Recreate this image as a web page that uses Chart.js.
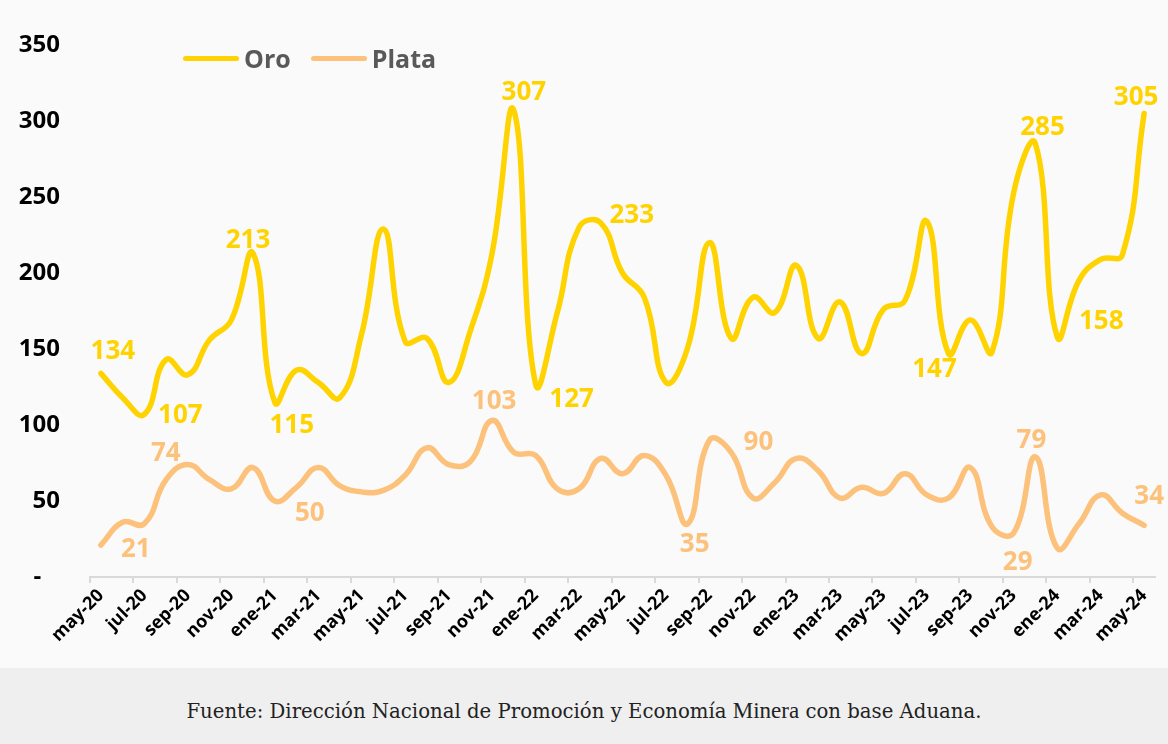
<!DOCTYPE html>
<html lang="es">
<head>
<meta charset="utf-8">
<title>Oro y Plata</title>
<script src="https://cdn.jsdelivr.net/npm/chart.js@4.4.1/dist/chart.umd.min.js"></script>
<style>
    body { margin: 0; background: #fafafa; }
    #contenedor { position: relative; width: 1168px; height: 668px; background: #fafafa; }
    #leyenda { position: absolute; left: 183px; top: 41px; display: flex; align-items: center; font: bold 25px "Open Sans", sans-serif; color: #595959; }
    #leyenda .item { display: flex; align-items: center; margin-right: 20px; }
    #leyenda .linea { width: 56px; height: 5px; border-radius: 3px; margin-right: 5px; }
    #fuente { width: 1168px; height: 76px; box-sizing: border-box; padding-top: 10px; background: #efefef; display: flex; align-items: center; justify-content: center; font: 19.7px "DejaVu Serif", serif; color: #222; }
    #fuente .m { font: 23px "Liberation Serif", serif; }
</style>
</head>
<body>
<div id="contenedor">
    <canvas id="grafico" width="1168" height="668"></canvas>
    <div id="leyenda"></div>
</div>
<div id="fuente">Fuente: Dirección Nacional de Promoción y Economía&nbsp;<span class="m">Minera</span>&nbsp;con base Aduana.</div>

<script>
//MESES (MAY-20 A MAY-24)
var meses = ["may-20", "jun-20", "jul-20", "ago-20", "sep-20", "oct-20", "nov-20", "dic-20",
    "ene-21", "feb-21", "mar-21", "abr-21", "may-21", "jun-21", "jul-21", "ago-21", "sep-21", "oct-21", "nov-21", "dic-21",
    "ene-22", "feb-22", "mar-22", "abr-22", "may-22", "jun-22", "jul-22", "ago-22", "sep-22", "oct-22", "nov-22", "dic-22",
    "ene-23", "feb-23", "mar-23", "abr-23", "may-23", "jun-23", "jul-23", "ago-23", "sep-23", "oct-23", "nov-23", "dic-23",
    "ene-24", "feb-24", "mar-24", "abr-24", "may-24"];

//SERIES
var oro = [134, 118, 107, 143, 133, 156, 169, 213,
    115, 136, 128, 118, 160, 229, 155, 157, 128, 162, 213, 307,
    127, 174, 230, 233, 200, 184, 128, 151, 220, 157, 184, 174,
    205, 157, 181, 147, 176, 182, 234, 147, 169, 148, 253, 285,
    158, 195, 209, 212, 305];

var plata = [21, 36, 35, 64, 74, 64, 58, 72,
    50, 59, 72, 60, 56, 57, 67, 85, 74, 76, 103, 82,
    80, 58, 58, 78, 68, 80, 67, 35, 90, 82, 52, 62,
    78, 70, 52, 59, 55, 68, 54, 52, 72, 33, 29, 79,
    19, 35, 54, 42, 34];

//PUNTOS CON ETIQUETA
var oroEtiquetas = [0, 2, 7, 8, 19, 20, 23, 39, 43, 44, 48];
var plataEtiquetas = [0, 4, 8, 18, 27, 28, 42, 43, 48];

//EJE Y
var ejeY = [0, 50, 100, 150, 200, 250, 300, 350];

var colorOro = "#FFD300";
var colorPlata = "#FCC17B";

//DESPLAZAMIENTO DE CADA ETIQUETA RESPECTO A SU PUNTO (PX)
var oroDesp = [[12, -23], [36, 0], [-5, -14], [17, 22], [10, -19], [36, 14], [31, -9], [-14, 14], [7, -18], [44, -17], [-8, -17]];
var plataDesp = [[35, 3], [-22, -13], [35, 11], [2, -20], [7, 19], [49, 1], [4, 28], [-4, -18], [5, -30]];

var etiquetasPlugin = {
    id: "etiquetas",
    afterDatasetsDraw: function (chart) {
        var ctx = chart.ctx;
        var grupos = [[oroEtiquetas, oroDesp], [plataEtiquetas, plataDesp]];
        chart.data.datasets.forEach(function (ds, d) {
            var meta = chart.getDatasetMeta(d);
            var idxs = grupos[d][0], desp = grupos[d][1];
            ctx.save();
            ctx.font = 'bold 26px "Open Sans"';
            ctx.fillStyle = ds.borderColor;
            ctx.textAlign = "center";
            ctx.textBaseline = "alphabetic";
            for (var k = 0; k < idxs.length; k++) {
                var p = meta.data[idxs[k]];
                ctx.fillText(ds.data[idxs[k]], p.x + desp[k][0], p.y + desp[k][1] + 9);
            }
            ctx.restore();
        });
    }
};

var datos = {
    labels: meses,
    datasets: [{
        label: "Oro",
        data: oro,
        borderColor: colorOro,
        borderWidth: 5.5,
        tension: 0.45,
        pointRadius: 0,
        borderCapStyle: "round",
        fill: false
    }, {
        label: "Plata",
        data: plata,
        borderColor: colorPlata,
        borderWidth: 5.5,
        tension: 0.45,
        pointRadius: 0,
        borderCapStyle: "round",
        fill: false
    }]
};

var opciones = {
    responsive: false,
    animation: false,
    devicePixelRatio: 1,
    layout: { padding: { top: 45, right: 13, left: 0, bottom: 0 } },
    plugins: { legend: { display: false }, tooltip: { enabled: false } },
    scales: {
        x: {
            offset: true,
            grid: {
                offset: true,
                drawOnChartArea: false,
                drawTicks: true,
                tickLength: 6,
                tickColor: function (c) { return c.index % 2 === 0 ? "#d9d9d9" : "rgba(0,0,0,0)"; },
                lineWidth: 2
            },
            border: { display: true, color: "#d9d9d9", width: 2 },
            ticks: {
                autoSkip: false,
                maxRotation: 45,
                minRotation: 45,
                padding: 2,
                color: "#000",
                font: { family: "Open Sans", weight: "bold", size: 18 },
                callback: function (v, i) { return i % 2 === 0 ? meses[i] : ""; }
            },
            afterFit: function (s) { s.height = 91; }
        },
        y: {
            min: ejeY[0],
            max: ejeY[ejeY.length - 1],
            afterBuildTicks: function (s) { s.ticks = ejeY.map(function (v) { return { value: v }; }); },
            grid: { display: false, drawTicks: false },
            border: { display: false },
            ticks: {
                padding: 30,
                color: "#000",
                font: { family: "Open Sans", weight: "bold", size: 24 },
                callback: function (v) { return v === 0 ? "-   " : v; }
            },
            afterFit: function (s) { s.width = 90; }
        }
    }
};

new Chart(document.getElementById("grafico").getContext("2d"), {
    type: "line",
    data: datos,
    options: opciones,
    plugins: [etiquetasPlugin]
});

//LEYENDA
var leyenda = "";
datos.datasets.forEach(function (ds) {
    leyenda += '<div class="item"><div class="linea" style="background:' + ds.borderColor + '"></div>' + ds.label + '</div>';
});
document.getElementById("leyenda").innerHTML = leyenda;
</script>
</body>
</html>
